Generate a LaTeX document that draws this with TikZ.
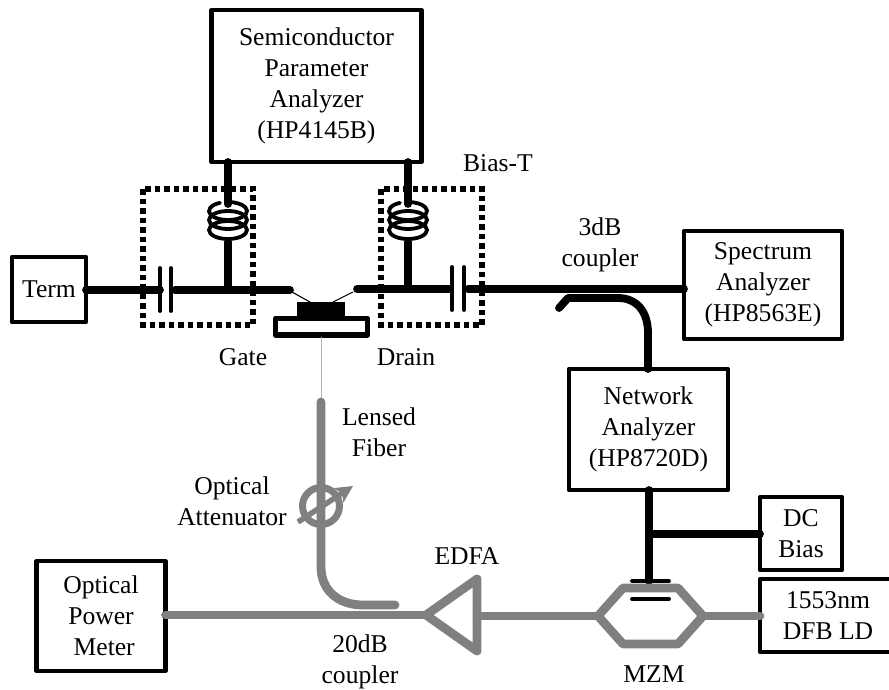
\documentclass[tikz,border=0pt]{standalone}
\usepackage{fontspec}
\setmainfont{Liberation Serif}
\usetikzlibrary{arrows.meta}

\definecolor{fibergray}{HTML}{808080}
\tikzset{
  label/.style={align=center,inner sep=0pt,font=\fontsize{25.6}{31}\selectfont},
  instr/.style={label,draw,line width=4.2pt,outer sep=0pt,line join=round},
  bias/.style={line width=5.5pt,dash pattern=on 5.5pt off 4pt},
  rfwire/.style={line width=7.8pt,line cap=round},
  plate/.style={line width=3.8pt,line cap=round},
  fiber/.style={fibergray,line width=8.8pt,line cap=round,line join=round},
  pics/coil/.style={code={
    \draw[line width=3.8pt,line cap=round] (0pt,9pt)+(115:19pt and 9pt) arc[start angle=115,end angle=450,x radius=19pt,y radius=9pt];
    \draw[line width=3.8pt] (0pt,0pt) circle[x radius=19pt,y radius=9pt];
    \draw[line width=3.8pt] (0pt,-10pt) circle[x radius=19pt,y radius=9pt];
  }}
}

\begin{document}
\begin{tikzpicture}[x=1pt,y=-1pt]
\path[clip,use as bounding box] (0,0) rectangle (889,690);
% Instruments
\node[instr,minimum width=210pt,minimum height=152pt] (param) at (316.5,86) {Semiconductor\\Parameter\\Analyzer\\(HP4145B)};
\node[instr,minimum width=74pt,minimum height=65pt] (term) at (49,289.5) {Term};
\node[instr,minimum width=158pt,minimum height=108pt] (spectrum) at (763,285) {Spectrum\\Analyzer\\(HP8563E)};
\node[instr,minimum width=159pt,minimum height=121pt] (network) at (648.5,429.5) {Network\\Analyzer\\(HP8720D)};
\node[instr,minimum width=82pt,minimum height=73pt] (dcbias) at (801,533.5) {DC\\Bias};
\node[instr,minimum width=136pt,minimum height=73pt] (laser) at (828,615.5) {1553nm\\DFB LD};
\node[instr,minimum width=129pt,minimum height=110pt] (meter) at (101,616) {Optical\\Power\\\ Meter};
% Bias-T boxes
\draw[bias] (143,189) rectangle (253,325);
\draw[bias] (381,189) rectangle (482,325);
% Labels
\node[label] (gatelbl) at (243,357) {Gate};
\node[label] (drainlbl) at (406,357) {Drain};
\node[label] (biaslbl) at (498,163) {Bias-T};
\node[label] (rfcoupler) at (600,245) {3dB\\coupler};
\node[label] (lensed) at (379,432) {Lensed\\Fiber};
\node[label] (atten) at (232,501) {Optical\\Attenuator};
\node[label] (edfalbl) at (467,556) {EDFA};
\node[label] (mzmlbl) at (654,674) {MZM};
\node[label] (optcoupler) at (360,662) {20dB\\coupler};
% Gate side
\coordinate (gcoil) at (228,220);
\coordinate (gtee) at (228,290);
\coordinate (gplateA) at (160,290);
\coordinate (gplateB) at (171,290);
\coordinate (gpad) at (290,290);
\pic at (gcoil) {coil};
\draw[rfwire] (term.east |- gplateA) -- (gplateA);
\draw[rfwire] ([xshift=4pt]gplateB) -- (gpad);
\draw[rfwire] (gtee) -- ([yshift=-22pt]gcoil);
\draw[rfwire] (param.south -| gcoil) -- ([yshift=16pt]gcoil);
\draw[plate] ([yshift=22pt]gplateA) -- ([yshift=-21pt]gplateA);
\draw[plate] ([yshift=22pt]gplateB) -- ([yshift=-21pt]gplateB);
% Drain side
\coordinate (dcoil) at (408,220);
\coordinate (dtee) at (408,289);
\coordinate (dplateA) at (452,289);
\coordinate (dplateB) at (464,289);
\coordinate (dpad) at (357,289);
\pic at (dcoil) {coil};
\draw[rfwire] (dpad) -- ([xshift=-3pt]dplateA);
\draw[rfwire] ([xshift=4pt]dplateB) -- (spectrum.west |- dplateB);
\draw[rfwire] (dtee) -- ([yshift=-22pt]dcoil);
\draw[rfwire] (param.south -| dcoil) -- ([yshift=16pt]dcoil);
\draw[plate] ([yshift=22pt]dplateA) -- ([yshift=-21pt]dplateA);
\draw[plate] ([yshift=22pt]dplateB) -- ([yshift=-21pt]dplateB);
% Device under test
\fill (297,302) rectangle (345,316);
\draw[line width=5.5pt,line join=round] (275.5,318.5) rectangle (367.5,335);
\draw[line width=1.1pt] (292,292) -- (310,302);
\draw[line width=1.1pt] (353,292) -- (333,302);
\draw[gray!60,line width=0.9pt] (321,337) -- (321,402);
% RF coupler branch
\coordinate (tapend) at (559,308);
\draw[rfwire,line join=round] (tapend) -- (568,298) -- (618,298) .. controls (637,298) and (648,312) .. (648,333) -- (network.north -| 648,0);
% Modulator bias
\coordinate (electrode) at (649,581);
\coordinate (dctee) at (649,534);
\draw[rfwire] (network.south -| electrode) -- (electrode);
\draw[rfwire] (dctee) -- (dcbias.west |- dctee);
\draw[plate] ([xshift=-17pt]electrode) -- ([xshift=20pt]electrode);
\draw[plate] (632,599) -- (669,599);
% Optical path
\coordinate (edfatip) at (426,615);
\coordinate (edfaback) at (477,616);
\coordinate (mzmin) at (598,616);
\coordinate (mzmout) at (703,616);
\draw[fiber] (meter.east |- edfatip) -- (edfatip);
\draw[fiber] (321,402) -- (321,567) .. controls (321,590) and (338,605) .. (363,605) -- (395,605);
\draw[fiber] (edfatip) -- (477,579) -- (477,651) -- cycle;
\draw[fiber] (edfaback) -- (mzmin);
\draw[fiber] (mzmin) -- (623,588) -- (678,588) -- (mzmout) -- (678,644) -- (623,644) -- cycle;
\draw[fiber] (mzmout) -- (laser.west |- mzmout);
% Attenuator
\draw[fibergray,line width=7pt] (321,506) circle[radius=18.5pt];
\draw[fibergray,line width=5.5pt,-{Stealth[length=17pt,width=17pt,inset=4pt]}] (298,522) -- (353,486);
\end{tikzpicture}
\end{document}
